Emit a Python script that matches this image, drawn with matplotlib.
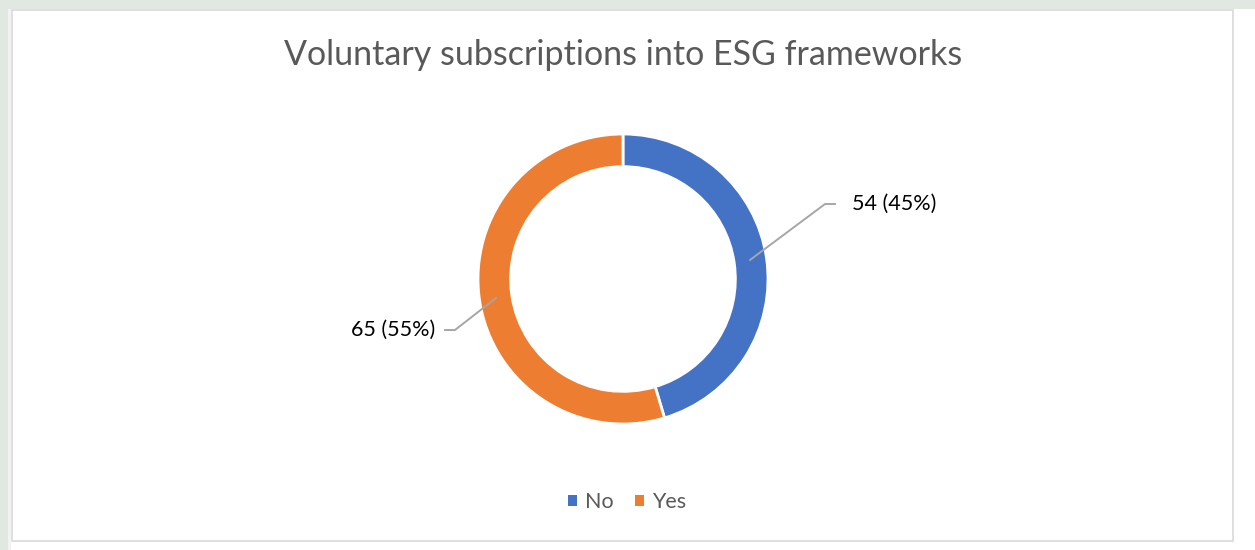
import numpy as np
import matplotlib.pyplot as plt
from matplotlib.patches import Rectangle

# datos del gráfico
categorias = ["No", "Yes"]
valores = [54, 65]
colores = ["#4472C4", "#ED7D31"]
titulo = "Voluntary subscriptions into ESG frameworks"

W, H = 1255, 550
fig = plt.figure(figsize=(W / 100, H / 100), dpi=100, facecolor="white")
plt.rcParams["font.family"] = ["Lato", "DejaVu Sans"]


def px(x, y):
    # pixeles (origen arriba a la izquierda) a coordenadas de figura
    return x / W, 1 - y / H


# marco exterior y borde del área del gráfico
fig.patches.append(Rectangle((0, 1 - 9 / H), 1, 9 / H, transform=fig.transFigure,
                             facecolor="#E1E8E1", edgecolor="none", zorder=-3))
fig.patches.append(Rectangle((0, 0), 8 / W, 1, transform=fig.transFigure,
                             facecolor="#E1E8E1", edgecolor="none", zorder=-3))
fig.patches.append(Rectangle((8 / W, 0), 3 / W, 1 - 9 / H, transform=fig.transFigure,
                             facecolor="#F2F2F2", edgecolor="none", zorder=-3))
x0, y0 = px(12, 541)
x1, y1 = px(1233, 10)
fig.patches.append(Rectangle((x0, y0), x1 - x0, y1 - y0, transform=fig.transFigure,
                             facecolor="white", edgecolor="#D9D9D9", linewidth=1.2, zorder=-2))

# título
tx, ty = px(623, 55)
fig.text(tx, ty, titulo, ha="center", va="center", fontsize=24.5, color="#595959")

# donut
cx, cy, r = 623, 279, 145
ax = fig.add_axes([(cx - r) / W, (H - cy - r) / H, 2 * r / W, 2 * r / H])
ax.set_zorder(2)
wedges, _ = ax.pie(valores, colors=colores, startangle=90, counterclock=False,
                   radius=1, wedgeprops=dict(width=0.225, edgecolor="white", linewidth=2))
ax.set_xlim(-1, 1)
ax.set_ylim(-1, 1)
ax.set_aspect("equal")
ax.axis("off")

# etiquetas con línea guía
total = sum(valores)
codos = {0: (1.393, 0.517, 1.469, 1.576, "left"),
         1: (-1.159, -0.352, -1.234, -1.297, "right")}
for i, w in enumerate(wedges):
    ang = np.deg2rad((w.theta1 + w.theta2) / 2)
    px0, py0 = 0.88 * np.cos(ang), 0.88 * np.sin(ang)
    ex, ey, fx, lx, ha = codos[i]
    ax.plot([px0, ex, fx], [py0, ey, ey], color="#A6A6A6", lw=1.4,
            clip_on=False, solid_capstyle="butt")
    pct = round(valores[i] / total * 100)
    ax.text(lx, ey, f"{valores[i]} ({pct}%)", ha=ha, va="center",
            fontsize=15.5, color="#000000", clip_on=False)

# leyenda
leg = fig.legend([Rectangle((0, 0), 1, 1, facecolor=c) for c in colores], categorias,
                 loc="center", bbox_to_anchor=px(627, 502), ncol=2, frameon=False,
                 fontsize=15.5, handlelength=0.42, handleheight=0.42, handletextpad=0.35,
                 columnspacing=1.0, labelcolor="#595959")

fig.savefig("out.png", dpi=100, facecolor="white")
